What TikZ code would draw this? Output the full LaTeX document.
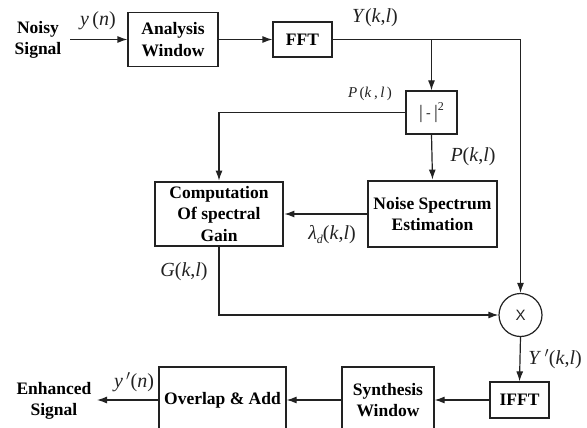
\documentclass[tikz,border=0pt]{standalone}
\usepackage{fontspec}
\setmainfont{Liberation Serif}
\newfontfamily\xsans{Liberation Sans}
\usetikzlibrary{arrows.meta,calc}
\definecolor{ink}{HTML}{222222}
\newcommand{\mlabel}[1]{\fontsize{20}{22}\selectfont #1}
\tikzset{
  blk/.style={draw=ink, line width=1.2pt, fill=white, align=center, inner sep=0pt,
    font=\fontsize{17.5}{21.5}\selectfont\bfseries, text=black},
  heavy/.style={blk, line width=2.8pt},
  wire/.style={draw=ink, line width=1.2pt},
  flow/.style={wire, -{Latex[length=10pt,width=7pt]}},
  sig/.style={align=center, inner sep=0pt, font=\fontsize{17.5}{21}\selectfont\bfseries, text=black},
  lab/.style={inner sep=0pt, text=ink}
}
\begin{document}
\begin{tikzpicture}[x=1pt,y=-1pt]
\useasboundingbox (0,0) rectangle (587,428);
\fill[white] (0,0) rectangle (587,428);
\clip (0,0) rectangle (587,428);

% processing blocks
\node[blk, minimum width=90pt, minimum height=54pt] (ana) at (173,39.5) {Analysis\\Window};
\node[blk, minimum width=59pt, minimum height=35pt] (fft) at (302.5,39.5) {FFT};
\node[blk, minimum width=51pt, minimum height=43pt, font=\fontsize{19}{20}\selectfont, text=ink] (sq) at (431.5,112.5)
  {\textbar\,\raisebox{0.2ex}{\fontsize{14}{15}\selectfont -}\,\textbar\raisebox{1.0ex}{\fontsize{12}{13}\selectfont 2}};
\node[heavy, minimum width=128pt, minimum height=64pt] (gain) at (219,214) {Computation\\Of spectral\\Gain};
\node[heavy, minimum width=129pt, minimum height=66pt] (noise) at (432.5,214) {Noise Spectrum\\Estimation};
\node[draw=ink, line width=1.2pt, circle, minimum size=43pt, inner sep=0pt, fill=white,
  font=\xsans\fontsize{15}{17}\selectfont, text=ink] (mult) at (520.5,315) {X};
\node[blk, minimum width=59pt, minimum height=36pt] (ifft) at (519.5,400) {IFFT};
\node[blk, minimum width=92pt, minimum height=66pt] (syn) at (388,400) {Synthesis\\Window};
\node[blk, minimum width=127pt, minimum height=66pt] (ola) at (222.5,400) {Overlap \& Add};

% input and output
\node[sig] (noisy) at (38,40) {Noisy\\Signal};
\node[sig] (enh) at (54,401) {Enhanced\\Signal};
\coordinate (in) at (70,39.5);
\coordinate (out) at (97,400);

% connectors
\draw[flow] (in) -- (ana.west);
\draw[flow] (ana.east) -- (fft.west);
\coordinate (tap) at (sq.north |- fft.east);
\draw[flow] (fft.east) -| (mult.north);
\draw[flow] (tap) -- (sq.north);
\draw[flow] (sq.west) -| (gain.north);
\draw[flow] (sq.south) -- (noise.north);
\draw[flow] (noise.west) -- (gain.east);
\draw[flow] (gain.south) |- (mult.west);
\draw[flow] (mult.south) -- (ifft.north);
\draw[flow] (ifft.west) -- (syn.east);
\draw[flow] (syn.west) -- (ola.east);
\draw[flow] (ola.west) -- (out);

% signal labels
\node[lab] (ly) at (98,21) {\mlabel{\textit{y}\,(\textit{n})}};
\node[lab] (lY) at (375,18) {\mlabel{\textit{Y}(\textit{k},\textit{l})}};
\node[lab] (lP1) at (370,94) {\fontsize{15}{17}\selectfont\textit{P}\,(\textit{k}\,,\,\textit{l}\,)};
\node[lab] (lP2) at (473,157) {\mlabel{\textit{P}(\textit{k},\textit{l})}};
\node[lab] (llam) at (332,235) {\mlabel{\textit{λ}\raisebox{-0.35ex}{\fontsize{12}{13}\selectfont\textit{d}}(\textit{k},\textit{l})}};
\node[lab] (lG) at (184,272) {\mlabel{\textit{G}(\textit{k},\textit{l})}};
\node[lab] (lYp) at (555,359) {\mlabel{\textit{Y}\,$'$(\textit{k},\textit{l})}};
\node[lab] (lyp) at (134,382) {\mlabel{\textit{y}\,$'$(\textit{n})}};
\end{tikzpicture}
\end{document}
